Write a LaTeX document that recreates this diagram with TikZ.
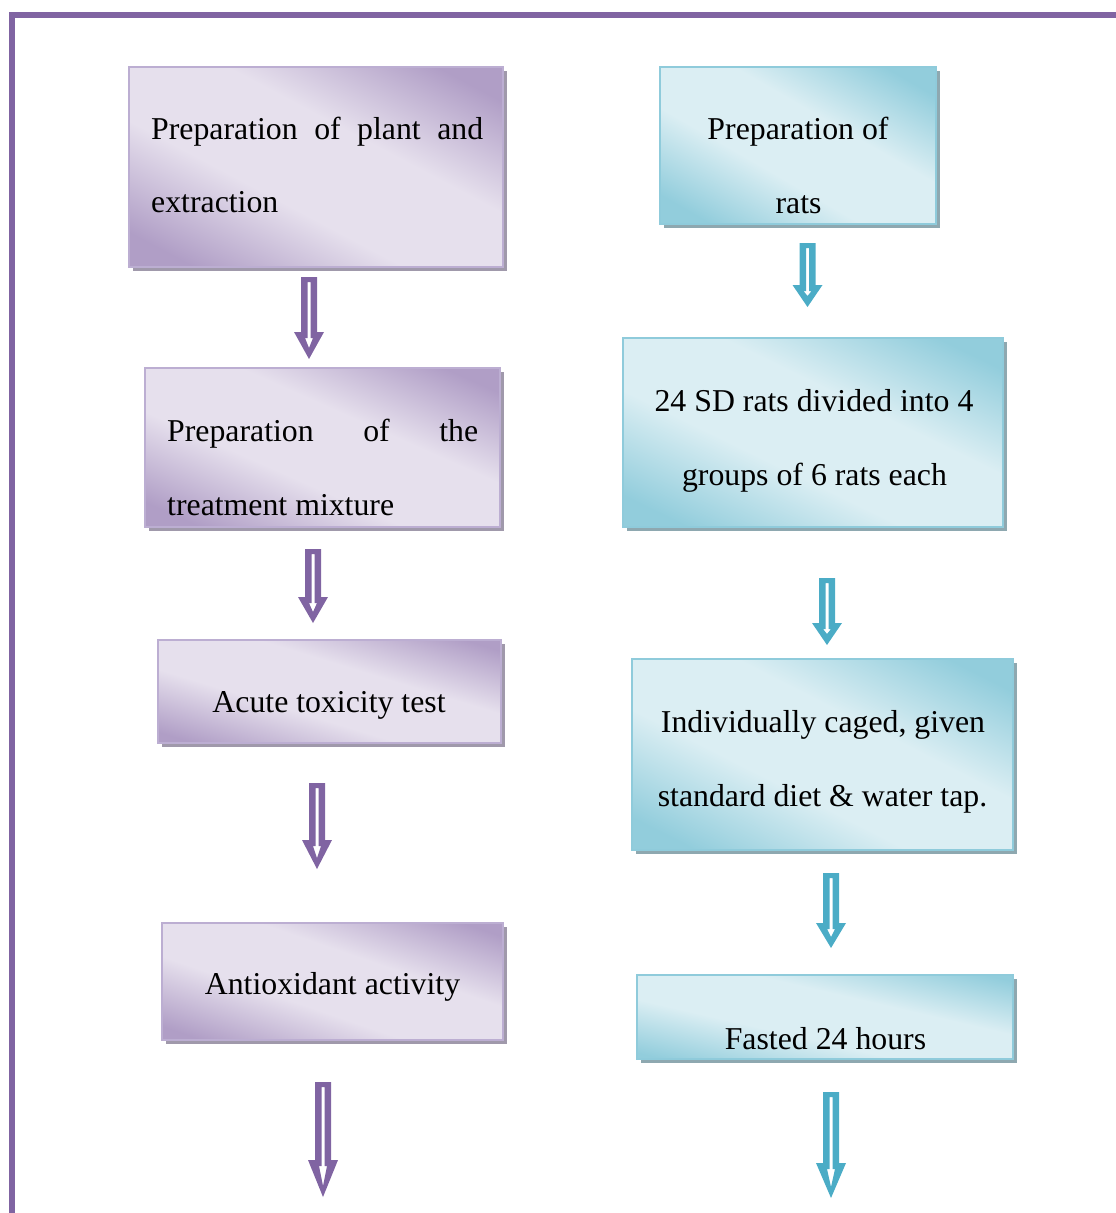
\documentclass[tikz,border=0pt]{standalone}
\usepackage{fontspec}
\setmainfont{Liberation Serif}
\usetikzlibrary{calc,shadows}
\definecolor{pframe}{HTML}{8064A2}
\definecolor{pdark}{HTML}{B09EC6}
\definecolor{plight}{HTML}{E6E0ED}
\definecolor{pborder}{HTML}{BCAED2}
\definecolor{pshadow}{HTML}{A099AB}
\definecolor{tarrow}{HTML}{4BACC6}
\definecolor{tdark}{HTML}{92CDDC}
\definecolor{tlight}{HTML}{DBEEF3}
\definecolor{tborder}{HTML}{8FCBDB}
\definecolor{tshadow}{HTML}{8EA8B0}
\pgfdeclareverticalshading{pshade}{100bp}{color(0bp)=(pdark); color(22bp)=(pdark); color(41bp)=(plight); color(59bp)=(plight); color(78bp)=(pdark); color(100bp)=(pdark)}
\pgfdeclareverticalshading{tshade}{100bp}{color(0bp)=(tdark); color(22bp)=(tdark); color(41bp)=(tlight); color(59bp)=(tlight); color(78bp)=(tdark); color(100bp)=(tdark)}
\tikzset{
  boxbase/.style={rectangle, inner sep=0pt, line width=1.5pt},
  pbox/.style={boxbase, draw=pborder, shade, shading=pshade, shading angle=#1,
    drop shadow={shadow xshift=4pt, shadow yshift=-4pt, fill=pshadow, opacity=1}},
  tbox/.style={boxbase, draw=tborder, shade, shading=tshade, shading angle=#1,
    drop shadow={shadow xshift=4pt, shadow yshift=-4pt, fill=tshadow, opacity=1}},
  txt/.style={inner sep=0pt, font=\fontsize{31.8pt}{73pt}\selectfont},
  blockarrow/.style={to path={let \p1=(\tikztostart), \p2=(\tikztotarget) in
    (\x1-8pt,\y1) -- (\x1+8pt,\y1) -- (\x1+8pt,\y2+#1pt) -- (\x1+15pt,\y2+#1pt) -- (\x1,\y2)
      -- (\x1-15pt,\y2+#1pt) -- (\x1-8pt,\y2+#1pt) -- cycle
    (\x1-1.5pt,\y1-5pt) -- (\x1+1.5pt,\y1-5pt) -- (\x1+1.5pt,\y2+#1pt-6pt) -- (\x1+4pt,\y2+#1pt-6pt)
      -- (\x1,\y2+11pt) -- (\x1-4pt,\y2+#1pt-6pt) -- (\x1-1.5pt,\y2+#1pt-6pt) -- cycle}},
  parr/.style={fill=pframe, even odd rule, blockarrow=#1},
  tarr/.style={fill=tarrow, even odd rule, blockarrow=#1}
}
\begin{document}
\begin{tikzpicture}[x=1pt,y=-1pt]
\useasboundingbox (0,0) rectangle (1116,1213);
% frame
\draw[pframe, line width=6pt] (11.5,1225) -- (11.5,15) -- (1125,15);
% left column boxes
\node[pbox=-28, minimum width=374pt, minimum height=200pt] (L1) at (316,167) {};
\node[pbox=-24, minimum width=355pt, minimum height=159pt] (L2) at (322.5,447.5) {};
\node[pbox=-17, minimum width=343pt, minimum height=103pt] (L3) at (329.5,691.5) {};
\node[pbox=-19, minimum width=341pt, minimum height=117pt] (L4) at (332.5,981.5) {};
% right column boxes
\node[tbox=-30, minimum width=276pt, minimum height=157pt] (R1) at (798,145.5) {};
\node[tbox=-26, minimum width=380pt, minimum height=189pt] (R2) at (813,432.5) {};
\node[tbox=-27, minimum width=381pt, minimum height=191pt] (R3) at (822.5,754.5) {};
\node[tbox=-13, minimum width=376pt, minimum height=84pt] (R4) at (825,1017) {};
% texts
\node[txt, anchor=base west] (L1a) at (151,139) {\makebox[332pt][s]{Preparation of plant and}};
\node[txt, anchor=base west] (L1b) at (151,212) {extraction};
\node[txt, anchor=base west] (L2a) at (167,441) {\makebox[311pt][s]{Preparation of the}};
\node[txt, anchor=base west] (L2b) at (167,515) {treatment mixture};
\node[txt, anchor=base] (L3a) at (329,712) {Acute toxicity test};
\node[txt, anchor=base] (L4a) at (332.5,994) {Antioxidant activity};
\node[txt, anchor=base] (R1a) at (798,139) {Preparation of};
\node[txt, anchor=base] (R1b) at (798.5,213) {rats};
\node[txt, anchor=base] (R2a) at (814,411) {24 SD rats divided into 4};
\node[txt, anchor=base] (R2b) at (814.5,485) {groups of 6 rats each};
\node[txt, anchor=base] (R3a) at (823,732) {Individually caged, given};
\node[txt, anchor=base] (R3b) at (822.5,806) {standard diet \& water tap.};
\node[txt, anchor=base] (R4a) at (825.5,1049) {Fasted 24 hours};
% arrow end points
\coordinate (a1s) at (309,277);  \coordinate (a1e) at (309,359);
\coordinate (a2s) at (313,549);  \coordinate (a2e) at (313,623);
\coordinate (a3s) at (317,783);  \coordinate (a3e) at (317,869);
\coordinate (a4s) at (323,1082); \coordinate (a4e) at (323,1197);
\coordinate (b1s) at (807.5,243); \coordinate (b1e) at (807.5,307);
\coordinate (b2s) at (827,578);  \coordinate (b2e) at (827,645);
\coordinate (b3s) at (831,873);  \coordinate (b3e) at (831,948);
\coordinate (b4s) at (831,1092); \coordinate (b4e) at (831,1198);
% arrows
\path[parr=27] (a1s) to (a1e);
\path[parr=26] (a2s) to (a2e);
\path[parr=29] (a3s) to (a3e);
\path[parr=37] (a4s) to (a4e);
\path[tarr=22] (b1s) to (b1e);
\path[tarr=22] (b2s) to (b2e);
\path[tarr=25] (b3s) to (b3e);
\path[tarr=35] (b4s) to (b4e);
\end{tikzpicture}
\end{document}
